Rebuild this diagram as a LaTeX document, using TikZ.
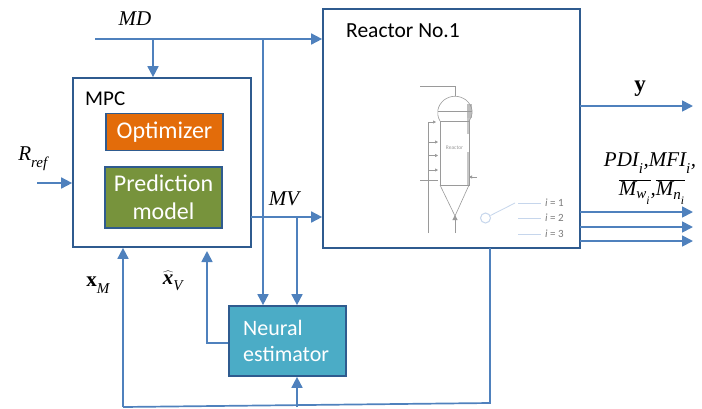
\documentclass[tikz,border=0pt]{standalone}
\usepackage{fontspec}
\usepackage{amsmath}
\setmainfont{Carlito}
\newfontfamily\formulafont{Liberation Serif}
\newcommand{\fit}[1]{\hbox{\fontsize{21}{24}\selectfont\formulafont\itshape #1}}
\newcommand{\fsub}[1]{\hbox{\fontsize{15}{17}\selectfont\formulafont\itshape #1}}
\newcommand{\fsubsub}[1]{\hbox{\fontsize{11.5}{13}\selectfont\formulafont\itshape #1}}
\usetikzlibrary{arrows.meta}
\definecolor{boxedge}{HTML}{2F5B8F}
\definecolor{flow}{HTML}{4F81BD}
\definecolor{orangefill}{HTML}{E36C0A}
\definecolor{greenfill}{HTML}{77933C}
\definecolor{tealfill}{HTML}{4BACC6}
\definecolor{sketch}{HTML}{9A9A9A}
\definecolor{tag}{HTML}{C6D6EC}
\tikzset{
  x=1pt,y=-1pt,
  plainbox/.style={draw=boxedge,line width=1.7pt,fill=white,inner sep=0pt},
  colourbox/.style={draw=boxedge,line width=1.7pt,text=white,align=center,font=\fontsize{24}{29}\selectfont,inner sep=0pt},
  link/.style={draw=flow,line width=1.7pt,-{Triangle[length=11pt,width=11pt]}},
  wire/.style={draw=flow,line width=1.7pt},
  mathlabel/.style={inner sep=0pt},
  thin sketch/.style={draw=sketch,line width=0.6pt},
  small arrow/.style={draw=sketch,line width=0.5pt,-{Triangle[length=3pt,width=3pt]}},
  tagline/.style={draw=tag,line width=0.8pt},
}
\begin{document}
\begin{tikzpicture}
\useasboundingbox (0,0) rectangle (702,408);
% boxes
\node[plainbox,minimum width=257pt,minimum height=239pt] (reactor) at (451.5,128.5) {};
\node[plainbox,minimum width=178pt,minimum height=169pt] (mpc) at (162,162.5) {};
\node[colourbox,fill=orangefill,minimum width=117pt,minimum height=37pt] (opt) at (164.5,132) {Optimizer};
\node[colourbox,fill=greenfill,minimum width=117pt,minimum height=61pt] (pred) at (163.5,197.5) {Prediction\\[-1pt]model};
\node[colourbox,fill=tealfill,minimum width=117pt,minimum height=70pt] (neural) at (287.5,341) {};
\node[inner sep=0pt,anchor=west,text=white,font=\fontsize{22}{26}\selectfont,align=left] (neuraltext) at (243,341) {Neural\\estimator};
\node[anchor=west,inner sep=0pt,font=\fontsize{21}{24}\selectfont] (mpctext) at (85,99) {MPC};
\node[anchor=west,inner sep=0pt,font=\fontsize{21.5}{24}\selectfont] (reactortext) at (346,31) {Reactor No.1};
% coordinates
\coordinate (mdstart) at (95,39);
\coordinate (mdA) at (153,39);
\coordinate (mdB) at (263,39);
\coordinate (mvstart) at (251,217);
\coordinate (mvtap) at (297,217);
\coordinate (rrefstart) at (37,183);
\coordinate (yout) at (693,106);
\coordinate (yin) at (580,106);
\coordinate (busR) at (490,248);
\coordinate (busC) at (490,403);
\coordinate (busL) at (123,407);
\coordinate (busN) at (297,407);
\coordinate (hatL) at (207,343);
% connectors
\draw[link] (mdstart) -- (reactor.west |- mdstart);
\draw[link] (mdA) -- (mdA |- mpc.north);
\draw[link] (mdB) -- (mdB |- neural.north);
\draw[link] (rrefstart) -- (mpc.west |- rrefstart);
\draw[link] (mvstart) -- (reactor.west |- mvstart);
\draw[link] (mvtap) -- (mvtap |- neural.north);
\draw[link] (yin) -- (yout);
\foreach \yy in {212,227,241} {
  \coordinate (pa\yy) at (580,\yy);
  \coordinate (pb\yy) at (693,\yy);
  \draw[link] (pa\yy) -- (pb\yy);
}
\draw[wire] (busR) -- (busC) -- (busL);
\draw[link] (busL) -- (busL |- mpc.south);
\draw[link] (busN) -- (busN |- neural.south);
\draw[link] (neural.west |- hatL) -- (hatL) -- (207,251);
% labels
\node[mathlabel] (mdl) at (135,19) {\fit{MD}};
\node[mathlabel] (rrefl) at (33,159) {$\fit{R}_{\fsub{ref}}$};
\node[mathlabel] (mvl) at (284,199) {\fit{MV}};
\node[mathlabel] (xm) at (98,285) {$\hbox{\fontsize{21}{24}\selectfont\formulafont\bfseries x}_{\fsub{M}}$};
\node[mathlabel] (xv) at (173,281) {$\widehat{\hbox{\fontsize{21}{24}\selectfont\formulafont\bfseries\itshape x}}_{\fsub{V}}$};
\node[mathlabel] (yl) at (640,89) {\hbox{\fontsize{23}{26}\selectfont\formulafont\bfseries y}};
\node[mathlabel] (pdi) at (650,163) {$\fit{PDI}_{\fsub{i}}\fit{,}\fit{MFI}_{\fsub{i}}\fit{,}$};
\node[mathlabel] (mw) at (652,192) {$\overline{\fit{M}_{\fsub{w}_{\fsubsub{i}}}}\fit{,}\overline{\fit{M}_{\fsub{n}_{\fsubsub{i}}}}$};
% reactor sketch
\fill[sketch!65] (466.5,104) rectangle (471.5,118);
\fill[sketch!55] (466.5,118) rectangle (469.5,134);
\fill[sketch!55] (466.5,152) rectangle (469.5,186);
\draw[thin sketch] (420,86) -- (455,86) -- (455,96);
\draw[thin sketch] (440,121) .. controls (436,114) and (437,106) .. (444,100) .. controls (451,95) and (459,95) .. (466,100) .. controls (473,106) and (474,114) .. (469,121);
\draw[thin sketch] (438,111) -- (472,111);
\draw[thin sketch] (440,121) -- (469,121);
\draw[thin sketch] (440,121) -- (440,185) -- (469,185) -- (469,121);
\draw[thin sketch] (440,185) -- (455,216) -- (469,185);
\draw[draw=sketch,line width=1pt,-{Triangle[length=5pt,width=5pt]}] (455,233) -- (455,215);
\draw[thin sketch] (428.5,233) -- (428.5,122);
\draw[small arrow] (428.5,122) -- (436,122);
\draw[small arrow] (428.5,142) -- (438,142);
\draw[small arrow] (428.5,155.5) -- (438,155.5);
\draw[small arrow] (428.5,170) -- (438,170);
\draw[thin sketch] (420,180) -- (438,180);
\draw[small arrow] (477,177) -- (469,177);
\node[inner sep=0pt,text=sketch,font=\fontsize{5.5}{6}\selectfont] (rs) at (454.5,148) {Reactor};
\node[draw=tag,line width=1pt,circle,minimum size=10pt,inner sep=0pt] (tagc) at (485.5,218) {};
\coordinate (tagj) at (515,203);
\draw[tagline] (tagc) -- (tagj);
\foreach \yy/\ii in {203/1,218/2,234/3} {
  \coordinate (ta\ii) at (518,\yy);
  \coordinate (tb\ii) at (541,\yy);
  \draw[tagline] (ta\ii) -- (tb\ii);
  \node[inner sep=0pt,anchor=west,text=sketch!80!black,font=\fontsize{11}{12}\selectfont] (tl\ii) at (545,\yy) {\textit{i} = \ii};
}
\end{tikzpicture}
\end{document}
